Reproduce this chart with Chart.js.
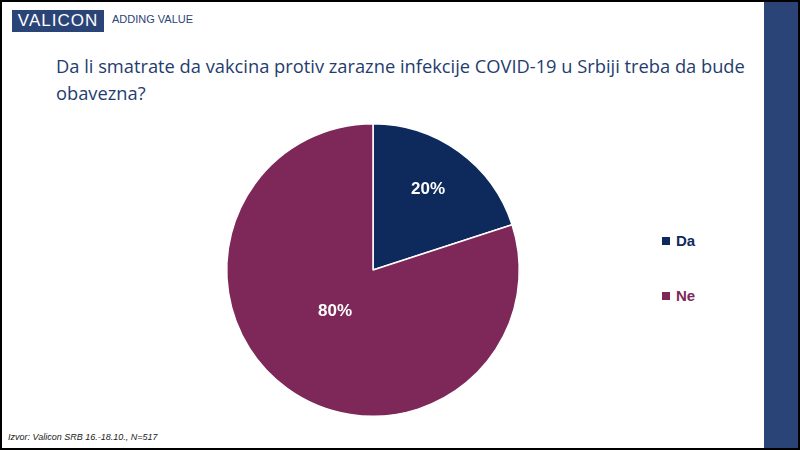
<!DOCTYPE html>
<html><head><meta charset="utf-8">
<script src="https://cdn.jsdelivr.net/npm/chart.js"></script>
<style>
body{margin:0;width:800px;height:450px;overflow:hidden;font-family:"Open Sans",Arial,sans-serif;}
#frame{position:absolute;left:0;top:0;width:796px;height:446px;border:2px solid #000;background:#fff;}
#bar{position:absolute;left:762px;top:0;width:34px;height:446px;background:#2b4478;}
#logo{position:absolute;left:10px;top:8px;width:92px;height:22px;background:#2b4478;color:#fff;font-size:17px;line-height:22px;text-align:center;letter-spacing:1px;font-family:"Liberation Sans",Arial;}
#tag{position:absolute;left:110px;top:11px;font-size:11px;color:#2b4478;font-family:"Liberation Sans",Arial;}
#title{position:absolute;left:54px;top:50px;width:720px;font-size:18.3px;line-height:27px;color:#1f3d6e;}
#src{position:absolute;left:6px;top:430px;font-size:9px;font-style:italic;color:#222;font-family:"Liberation Sans",Arial;}
#chart{position:absolute;left:220px;top:117px;width:302px;height:302px;}
#legend{position:absolute;left:660px;top:230px;font-family:"Liberation Sans",Arial;font-weight:bold;font-size:15px;}
.li{height:55px;display:flex;align-items:flex-start;}
.sw{width:8px;height:8px;margin:5px 6px 0 0;}
</style></head><body>
<div id="frame"><div id="bar"></div>
<div id="logo">VALICON</div><div id="tag">ADDING VALUE</div>
<div id="title">Da li smatrate da vakcina protiv zarazne infekcije COVID-19 u Srbiji treba da bude obavezna?</div>
<div id="chart"><canvas id="c"></canvas></div>
<div id="legend"></div>
<div id="src">Izvor: Valicon SRB 16.-18.10., N=517</div>
</div>
<script>
const categories=["Da","Ne"];
const values=[20,80];
const colors=["#0e2a5c","#7d2858"];
const lg=document.getElementById('legend');
categories.forEach((c,i)=>{lg.innerHTML+=`<div class="li" style="color:${colors[i]}"><div class="sw" style="background:${colors[i]}"></div>${c}</div>`;});
const labelPlugin={id:'lbl',afterDatasetsDraw(ch){const ctx=ch.ctx;ch.getDatasetMeta(0).data.forEach((a,i)=>{const p=a.tooltipPosition();ctx.save();ctx.fillStyle='#fff';ctx.font='bold 17px "Liberation Sans",Arial';ctx.textAlign='center';ctx.textBaseline='middle';ctx.fillText(values[i]+'%',p.x+(i==0?12:5),p.y+(i==0?-22:-18));ctx.restore();});}};
new Chart(document.getElementById('c'),{type:'pie',data:{labels:categories,datasets:[{data:values,backgroundColor:colors,borderColor:'#fff',borderWidth:1.5}]},
options:{responsive:true,maintainAspectRatio:false,animation:false,layout:{padding:4},plugins:{legend:{display:false},tooltip:{enabled:false}}},plugins:[labelPlugin]});
</script></body></html>
